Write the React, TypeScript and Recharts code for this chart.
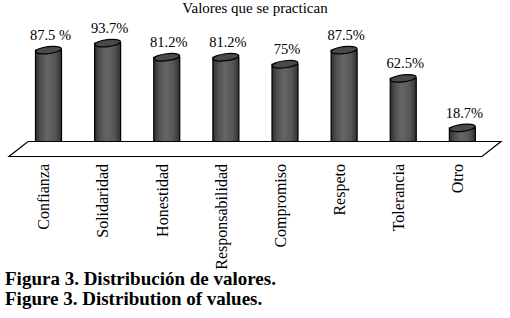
import React from 'react';
import { BarChart, Bar, XAxis, YAxis, LabelList, ReferenceLine } from 'recharts';

const categories = ['Confianza', 'Solidaridad', 'Honestidad', 'Responsabilidad', 'Compromiso', 'Respeto', 'Tolerancia', 'Otro'];
const values = [87.5, 93.7, 81.2, 81.2, 75, 87.5, 62.5, 18.7];
const valueLabels = ['87.5 %', '93.7%', '81.2%', '81.2%', '75%', '87.5%', '62.5%', '18.7%'];

const data = categories.map((c, i) => ({ name: c, value: values[i], label: valueLabels[i] }));

const FONT = '"Liberation Serif", "Times New Roman", serif';

const Cylinder = (props: any) => {
    const { x, y, width, height } = props;
    const rx = width / 2;
    const ry = 3.5;
    const cx = x + rx;
    const bottom = y + height;
    return (
        <g>
            <path
                d={`M${x},${y} L${x},${bottom} A${rx},${ry} 0 0 0 ${x + width},${bottom} L${x + width},${y} Z`}
                fill="url(#cylGrad)"
                stroke="#000"
                strokeWidth={1.2}
            />
            <ellipse cx={cx} cy={y} rx={rx} ry={ry} fill="#4a4a4a" stroke="#000" strokeWidth={1.2}
                transform={`rotate(-7 ${cx} ${y})`} />
        </g>
    );
};

// floor drawn around the zero line
const Floor = (props: any) => {
    const { x1, y1, x2 } = props;
    const dx = 9.5, dy = 7.5;
    const pts = `${x1 - dx},${y1 + dy} ${x2 - dx},${y1 + dy} ${x2 + dx},${y1 - dy} ${x1 + dx},${y1 - dy}`;
    return <polygon points={pts} fill="#fff" stroke="#000" strokeWidth={1.2} />;
};

const ValueLabel = (props: any) => {
    const { x, y, width, value } = props;
    return (
        <text x={x + width / 2 + 2} y={y - 10} textAnchor="middle" fontFamily={FONT} fontSize={14.5} fill="#000">
            {value}
        </text>
    );
};

const CategoryTick = (props: any) => {
    const { x, y, payload } = props;
    return (
        <text transform={`translate(${x - 4},${y + 13}) rotate(-90)`} textAnchor="end" dy="0.33em"
            fontFamily={FONT} fontSize={16} fill="#000">
            {payload.value}
        </text>
    );
};

export default function App() {
    return (
        <div style={{ position: 'absolute', left: 0, top: 0, width: 510, height: 318, background: '#fff', fontFamily: FONT }}>
            <div style={{ position: 'absolute', top: 1, left: 0, width: 510, textAlign: 'center', fontSize: 15, lineHeight: '15px' }}>
                Valores que se practican
            </div>
            <BarChart width={510} height={318} data={data} margin={{ top: 36, right: 18.5, left: 18.5, bottom: 0 }}>
                <defs>
                    <linearGradient id="cylGrad" x1="0" y1="0" x2="1" y2="0">
                        <stop offset="0%" stopColor="#2e2e2e" />
                        <stop offset="20%" stopColor="#505050" />
                        <stop offset="45%" stopColor="#666666" />
                        <stop offset="75%" stopColor="#575757" />
                        <stop offset="100%" stopColor="#303030" />
                    </linearGradient>
                </defs>
                <XAxis dataKey="name" height={169} axisLine={false} tickLine={false} tickSize={0} interval={0} tick={<CategoryTick />} />
                <YAxis hide domain={[0, 100]} />
                <ReferenceLine y={0} shape={<Floor />} />
                <Bar dataKey="value" barSize={26} shape={<Cylinder />} isAnimationActive={false}>
                    <LabelList dataKey="label" content={<ValueLabel />} />
                </Bar>
            </BarChart>
            <div style={{ position: 'absolute', top: 268.5, left: 5, fontSize: 19, lineHeight: '20px', fontWeight: 'bold', whiteSpace: 'nowrap' }}>
                Figura 3. Distribución de valores.<br />
                Figure 3. Distribution of values.
            </div>
        </div>
    );
}
